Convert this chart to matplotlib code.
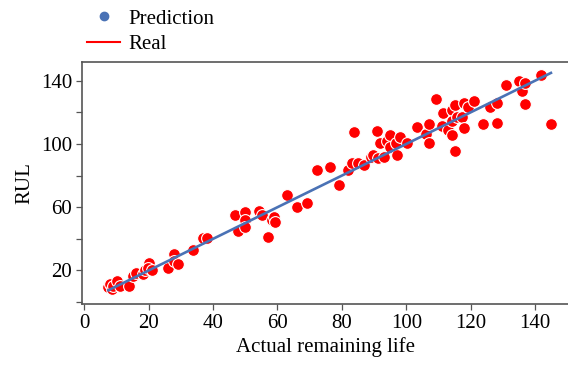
import matplotlib.pyplot as plt
from matplotlib.lines import Line2D

# actual remaining life (x) and predicted RUL (y) for each test unit
actual = [7.5, 8.0, 8.5, 9.0, 10.1, 11.1, 14.0, 15.2, 16.1, 18.1, 18.9, 20.1, 19.9, 20.9,
          26.1, 28.0, 28.0, 29.0, 33.9, 37.0, 38.0, 46.8, 47.8, 49.9, 49.9, 49.9, 54.3,
          55.1, 57.1, 58.2, 59.0, 59.2, 63.0, 66.1, 69.1, 72.2, 76.3, 79.1, 82.0, 83.0,
          83.9, 84.9, 87.0, 88.9, 89.8, 91.0, 91.8, 91.3, 93.1, 93.9, 94.9, 94.9, 96.8,
          97.0, 98.0, 100.3, 103.2, 106.1, 107.1, 107.1, 109.2, 111.0, 111.3, 113.0,
          114.1, 114.1, 114.3, 115.1, 115.1, 115.8, 117.2, 118.0, 118.0, 119.1, 121.0,
          123.9, 126.0, 128.1, 128.1, 131.0, 134.9, 135.9, 137.0, 137.0, 141.8, 144.9]
predicted = [9.5, 11.6, 8.2, 10.3, 13.6, 9.9, 10.1, 16.2, 18.3, 17.7, 20.0, 24.6, 21.5, 20.4,
             21.5, 30.5, 26.3, 24.2, 33.0, 40.4, 40.4, 55.3, 45.2, 57.0, 52.0, 47.4, 57.9,
             55.1, 41.0, 52.0, 54.1, 50.9, 68.0, 60.0, 62.5, 83.6, 85.7, 74.1, 83.6, 87.8,
             107.8, 87.8, 86.7, 91.6, 93.1, 108.4, 100.4, 91.0, 91.6, 102.1, 105.7, 97.9,
             100.8, 93.1, 104.2, 100.4, 110.5, 106.3, 112.6, 100.4, 128.2, 111.4, 119.4,
             108.8, 121.5, 114.7, 105.7, 124.6, 95.8, 117.2, 117.2, 125.7, 109.9, 123.2,
             127.4, 112.6, 123.2, 125.7, 113.1, 137.5, 140.0, 133.3, 138.3, 125.5, 143.8,
             112.6]

x_ticks = [0, 20, 40, 60, 80, 100, 120, 140]
y_ticks = [0, 20, 40, 60, 80, 100, 120, 140]
y_labels = ['', '20', '', '60', '', '100', '', '140']

plt.rcParams['font.family'] = ['Liberation Serif', 'DejaVu Serif']

fig = plt.figure(figsize=(5.68, 3.65), dpi=100)
ax = fig.add_axes([82 / 568, 61 / 365, 486 / 568, 242 / 365])

red = '#ff0000'
blue = '#4a72b5'

ax.scatter(actual, predicted, s=72, color=red, edgecolors='white', linewidths=0.8, zorder=2)
line_x = sorted(actual)
ax.plot(line_x, line_x, color=blue, linewidth=1.9, zorder=3)

ax.set_xlim(-0.7, 150.2)
ax.set_ylim(-1.2, 151.8)
ax.set_xticks(x_ticks)
ax.set_yticks(y_ticks)
ax.set_yticklabels(y_labels)
ax.tick_params(direction='out', length=4, width=0.9, color='#555555', labelsize=15, pad=3)

for side in ['left', 'bottom', 'top']:
    ax.spines[side].set_color('#555555')
    ax.spines[side].set_linewidth(1.2)
ax.spines['right'].set_visible(False)

ax.set_xlabel('Actual remaining life', fontsize=15, labelpad=3)
ax.set_ylabel('RUL', fontsize=15, labelpad=5)

handles = [
    Line2D([], [], linestyle='none', marker='o', markersize=6, color=blue),
    Line2D([], [], color=red, linewidth=1.5),
]
fig.legend(handles, ['Prediction', 'Real'], loc='upper left',
           bbox_to_anchor=(85 / 568, 1 - 7 / 365), frameon=False, fontsize=15,
           handlelength=1.6, handletextpad=0.4, labelspacing=0.3,
           borderpad=0.1, borderaxespad=0)

fig.savefig('out.png', dpi=100)
